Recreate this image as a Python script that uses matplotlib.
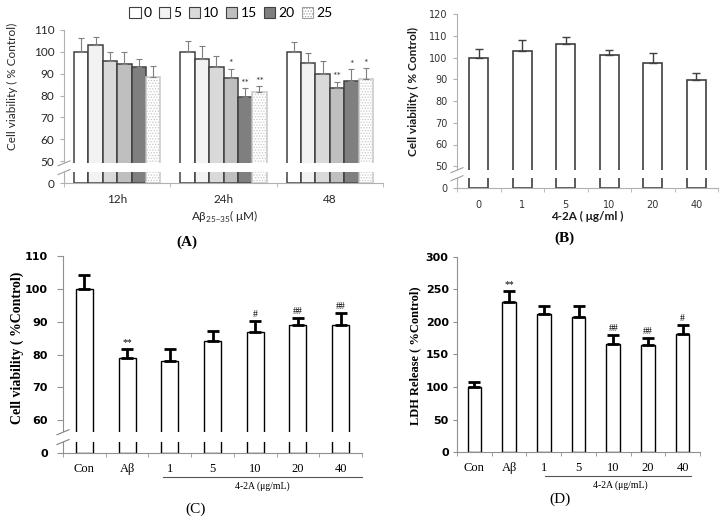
import numpy as np
import matplotlib
matplotlib.use('Agg')
import matplotlib.pyplot as plt
from matplotlib.patches import Patch

# ---------------- data ----------------
A_times = ['12h', '24h', '48']
A_conc = ['0', '5', '10', '15', '20', '25']
A_12h = [100, 103.3, 96, 94.4, 93, 88.6]
A_24h = [100, 96.9, 93.1, 88.2, 79.5, 81.5]
A_48 = [100, 94.8, 89.9, 83.3, 86.8, 87.7]
A_12h_err = [6.2, 3.4, 4, 5.6, 3.8, 5.1]
A_24h_err = [4.8, 5.8, 5, 3.9, 3.8, 2.7]
A_48_err = [4.6, 4.6, 6, 3, 5.2, 4.8]
A_12h_sig = ['', '', '', '', '', '']
A_24h_sig = ['', '', '', '*', '**', '**']
A_48_sig = ['', '', '', '**', '*', '*']
A_yticks = [0, 50, 60, 70, 80, 90, 100, 110]

B_dose = ['0', '1', '5', '10', '20', '40']
B_vals = [100, 103, 106, 101, 97.5, 89.5]
B_err = [4, 5, 3.5, 2.5, 4.5, 3.5]
B_yticks = [0, 50, 60, 70, 80, 90, 100, 110, 120]

C_labels = ['Con', 'Aβ', '1', '5', '10', '20', '40']
C_vals = [100, 79, 78, 84, 87, 89, 89]
C_err = [4.3, 2.7, 3.8, 3.3, 3.1, 2.1, 3.6]
C_sig = ['', '**', '', '', '#', '##', '##']
C_yticks = [0, 60, 70, 80, 90, 100, 110]

D_labels = ['Con', 'Aβ', '1', '5', '10', '20', '40']
D_vals = [100, 231, 213, 207, 166, 165, 182]
D_err = [8, 17, 11, 18, 14, 11, 13]
D_sig = ['', '**', '', '', '##', '##', '#']
D_yticks = [0, 50, 100, 150, 200, 250, 300]

# ---------------- helpers ----------------
W, H = 726, 521
fig = plt.figure(figsize=(W / 100, H / 100), dpi=100)
plt.rcParams['hatch.linewidth'] = 0.6


def rect(l, r, b, t):
    return [l / W, 1 - b / H, (r - l) / W, (b - t) / H]


def px(x, y):
    return (x / W, 1 - y / H)


def make_scale(cut, k):
    p0 = cut / k

    def fwd(v):
        v = np.asarray(v, dtype=float)
        return np.where(v >= cut, v - cut + p0, v / k)

    def inv(p):
        p = np.asarray(p, dtype=float)
        return np.where(p >= p0, p + cut - p0, p * k)
    return fwd, inv


def add_break(ax, fwd, lo, hi, ymax, wpx, hpx, color):
    ax.axhspan(lo, hi, xmin=-4 / wpx, xmax=1.0, color='white', zorder=3,
               clip_on=False, lw=0)
    top = float(fwd(ymax))
    for v in (lo, hi):
        f = float(fwd(v)) / top
        dx, dy = 6 / wpx, 2.5 / hpx
        ax.plot([-dx, dx], [f - dy, f + dy], transform=ax.transAxes,
                color=color, lw=0.8, clip_on=False, zorder=5)


LATO = ['Lato', 'DejaVu Sans']
SERIF = ['Liberation Serif', 'DejaVu Serif']

# ---------------- Panel A ----------------
axA = fig.add_axes(rect(64, 383, 183, 30))
fwdA, invA = make_scale(50, 5)
axA.set_yscale('function', functions=(fwdA, invA))
A_series = [A_12h, A_24h, A_48]
A_errs = [A_12h_err, A_24h_err, A_48_err]
A_sigs = [A_12h_sig, A_24h_sig, A_48_sig]
A_face = ['white', '#f2f2f2', '#d9d9d9', '#bfbfbf', '#7f7f7f', 'white']
A_edge = ['#404040'] * 5 + ['#c8c8c8']
A_hatch = [None] * 5 + ['......']
bw = 0.135
x0 = np.arange(len(A_times))
for i in range(len(A_conc)):
    vals = [s[i] for s in A_series]
    errs = [e[i] for e in A_errs]
    xs = x0 + (i - 2.5) * bw
    axA.bar(xs, vals, width=bw, color=A_face[i], edgecolor=A_edge[i],
            hatch=A_hatch[i], lw=1.1, zorder=2)
    axA.errorbar(xs, vals, yerr=[np.zeros(len(vals)), errs], fmt='none',
                 ecolor='#7f7f7f', elinewidth=0.8, capsize=2, capthick=0.8,
                 zorder=2.5)
    for g in range(len(A_times)):
        s = A_sigs[g][i]
        if s:
            axA.text(xs[g], vals[g] + errs[g] + 0.3, s, ha='center',
                     va='bottom', fontsize=7.5, color='#404040', family=LATO)
axA.set_xlim(-0.5, 2.5)
axA.set_ylim(0, 110)
axA.set_yticks(A_yticks)
axA.set_yticklabels([str(t) for t in A_yticks], family=LATO, fontsize=8.5,
                    color='#262626')
axA.set_xticks(x0)
axA.set_xticklabels(A_times, family=LATO, fontsize=8.5, color='#262626')
axA.set_xticks(np.arange(-0.5, 3, 1), minor=True)
axA.tick_params(axis='x', which='major', length=0, pad=8)
axA.tick_params(axis='x', which='minor', length=3, color='#b0b0b0')
axA.tick_params(axis='y', which='major', length=3, color='#b0b0b0', pad=4)
axA.tick_params(axis='y', which='minor', length=0)
for sp in ['top', 'right']:
    axA.spines[sp].set_visible(False)
for sp in ['left', 'bottom']:
    axA.spines[sp].set_color('#b0b0b0')
add_break(axA, fwdA, 25, 45, 110, 319, 153, '#a0a0a0')
fig.text(*px(12, 86), 'Cell viability ( % Control)', rotation=90,
         ha='center', va='center', family=LATO, fontsize=8.5, color='#262626')
fig.text(*px(224, 217), 'Aβ$_{\\mathregular{25\u201335}}$( μM)', ha='center',
         va='center', family=LATO, fontsize=8.5, color='#262626')
handles = [Patch(facecolor=A_face[i], edgecolor=A_edge[i] if i < 5 else '#a0a0a0',
                 hatch=A_hatch[i], lw=0.8) for i in range(6)]
fig.legend(handles, A_conc, loc='center', bbox_to_anchor=px(231, 13), ncol=6,
           frameon=False, handlelength=0.8, handleheight=0.8,
           handletextpad=0.25, columnspacing=0.5,
           prop=dict(family=LATO, size=10))
fig.text(*px(187, 242), '(A)', ha='center', va='center', family=SERIF,
         fontsize=11, fontweight='bold')

# ---------------- Panel B ----------------
axB = fig.add_axes(rect(457, 718, 188, 14))
fwdB, invB = make_scale(50, 5)
axB.set_yscale('function', functions=(fwdB, invB))
xb = np.arange(len(B_dose))
axB.bar(xb, B_vals, width=0.44, color='white', edgecolor='#404040', lw=1.2,
        zorder=2)
axB.errorbar(xb, B_vals, yerr=[np.zeros(len(B_vals)), B_err], fmt='none',
             ecolor='#404040', elinewidth=1.0, capsize=3, capthick=1.0,
             zorder=2.5)
axB.set_xlim(-0.5, len(B_dose) - 0.5)
axB.set_ylim(0, 120)
axB.set_yticks(B_yticks)
axB.set_yticklabels([str(t) for t in B_yticks], fontsize=7, color='#333333')
axB.set_xticks(xb)
axB.set_xticklabels(B_dose, fontsize=7, color='#333333')
axB.set_xticks(np.arange(-0.5, len(B_dose), 1), minor=True)
axB.tick_params(axis='x', which='major', length=0, pad=9)
axB.tick_params(axis='x', which='minor', length=3, color='#b0b0b0')
axB.tick_params(axis='y', which='major', length=3, color='#b0b0b0', pad=4)
axB.tick_params(axis='y', which='minor', length=0)
for sp in ['top', 'right']:
    axB.spines[sp].set_visible(False)
for sp in ['left', 'bottom']:
    axB.spines[sp].set_color('#b0b0b0')
add_break(axB, fwdB, 22.5, 41, 120, 261, 174, '#a0a0a0')
fig.text(*px(413, 92), 'Cell viability ( % Control)', rotation=90,
         ha='center', va='center', family=LATO, fontsize=8.5,
         fontweight='bold', color='#1a1a1a')
fig.text(*px(587, 216), '4-2A ( μg/ml )', ha='center', va='center',
         family=LATO, fontsize=8.5, fontweight='bold', color='#1a1a1a')
fig.text(*px(564, 238), '(B)', ha='center', va='center', family=SERIF,
         fontsize=11, fontweight='bold')

# ---------------- Panel C ----------------
axC = fig.add_axes(rect(63, 362, 453, 256))
fwdC, invC = make_scale(60, 6)
axC.set_yscale('function', functions=(fwdC, invC))
xc = np.arange(len(C_labels))
axC.bar(xc, C_vals, width=0.4, color='white', edgecolor='black', lw=1.0,
        zorder=2)
axC.errorbar(xc, C_vals, yerr=[np.zeros(len(C_vals)), C_err], fmt='none',
             ecolor='black', elinewidth=2.0, capsize=4, capthick=2.0,
             zorder=2.5)
for i, s in enumerate(C_sig):
    if s:
        axC.text(xc[i], C_vals[i] + C_err[i] + 0.6, s, ha='center',
                 va='bottom', family=SERIF, fontsize=7)
axC.set_xlim(-0.5, len(C_labels) - 0.5)
axC.set_ylim(0, 110)
axC.set_yticks(C_yticks)
axC.set_yticklabels([str(t) for t in C_yticks], fontsize=8, fontweight='bold')
axC.set_xticks(xc)
axC.set_xticklabels(C_labels, family=SERIF, fontsize=9)
axC.set_xticks(np.arange(-0.5, len(C_labels), 1), minor=True)
axC.tick_params(axis='x', which='major', length=0, pad=7)
axC.tick_params(axis='x', which='minor', length=3, color='#909090')
axC.tick_params(axis='y', which='major', length=4, color='#909090', pad=7)
axC.tick_params(axis='y', which='minor', length=0)
for sp in ['top', 'right']:
    axC.spines[sp].set_visible(False)
for sp in ['left', 'bottom']:
    axC.spines[sp].set_color('#909090')
add_break(axC, fwdC, 20, 38, 110, 299, 197, '#808080')
fig.text(*px(17, 348), 'Cell viability ( %Control)', rotation=90,
         ha='center', va='center', family=SERIF, fontsize=10,
         fontweight='bold')
lineC = plt.Line2D([163 / W, 362 / W], [1 - 477 / H, 1 - 477 / H],
                   transform=fig.transFigure, color='#555555', lw=0.8)
fig.add_artist(lineC)
fig.text(*px(262, 486), '4-2A (μg/mL)', ha='center', va='center',
         family=SERIF, fontsize=7)
fig.text(*px(196, 509), '(C)', ha='center', va='center', family=SERIF,
         fontsize=11)

# ---------------- Panel D ----------------
axD = fig.add_axes(rect(457, 700, 452, 257))
xd = np.arange(len(D_labels))
axD.bar(xd, D_vals, width=0.39, color='white', edgecolor='black', lw=1.0,
        zorder=2)
axD.errorbar(xd, D_vals, yerr=[np.zeros(len(D_vals)), D_err], fmt='none',
             ecolor='black', elinewidth=2.0, capsize=4, capthick=2.0,
             zorder=2.5)
for i, s in enumerate(D_sig):
    if s:
        axD.text(xd[i], D_vals[i] + D_err[i] + 3, s, ha='center',
                 va='bottom', family=SERIF, fontsize=7)
axD.set_xlim(-0.5, len(D_labels) - 0.5)
axD.set_ylim(0, 300)
axD.set_yticks(D_yticks)
axD.set_yticklabels([str(t) for t in D_yticks], fontsize=8, fontweight='bold')
axD.set_xticks(xd)
axD.set_xticklabels(D_labels, family=SERIF, fontsize=9)
axD.set_xticks(np.arange(-0.5, len(D_labels), 1), minor=True)
axD.tick_params(axis='x', which='major', length=0, pad=7)
axD.tick_params(axis='x', which='minor', length=3, color='#909090')
axD.tick_params(axis='y', which='major', length=3, color='#909090', pad=3)
for sp in ['top', 'right']:
    axD.spines[sp].set_visible(False)
for sp in ['left', 'bottom']:
    axD.spines[sp].set_color('#909090')
fig.text(*px(415, 356), 'LDH Release ( %Control)', rotation=90,
         ha='center', va='center', family=SERIF, fontsize=9,
         fontweight='bold')
lineD = plt.Line2D([545 / W, 691 / W], [1 - 476 / H, 1 - 476 / H],
                   transform=fig.transFigure, color='#555555', lw=0.8)
fig.add_artist(lineD)
fig.text(*px(620, 485), '4-2A (μg/mL)', ha='center', va='center',
         family=SERIF, fontsize=7)
fig.text(*px(560, 499), '(D)', ha='center', va='center', family=SERIF,
         fontsize=11)

fig.savefig('out.png', dpi=100)
